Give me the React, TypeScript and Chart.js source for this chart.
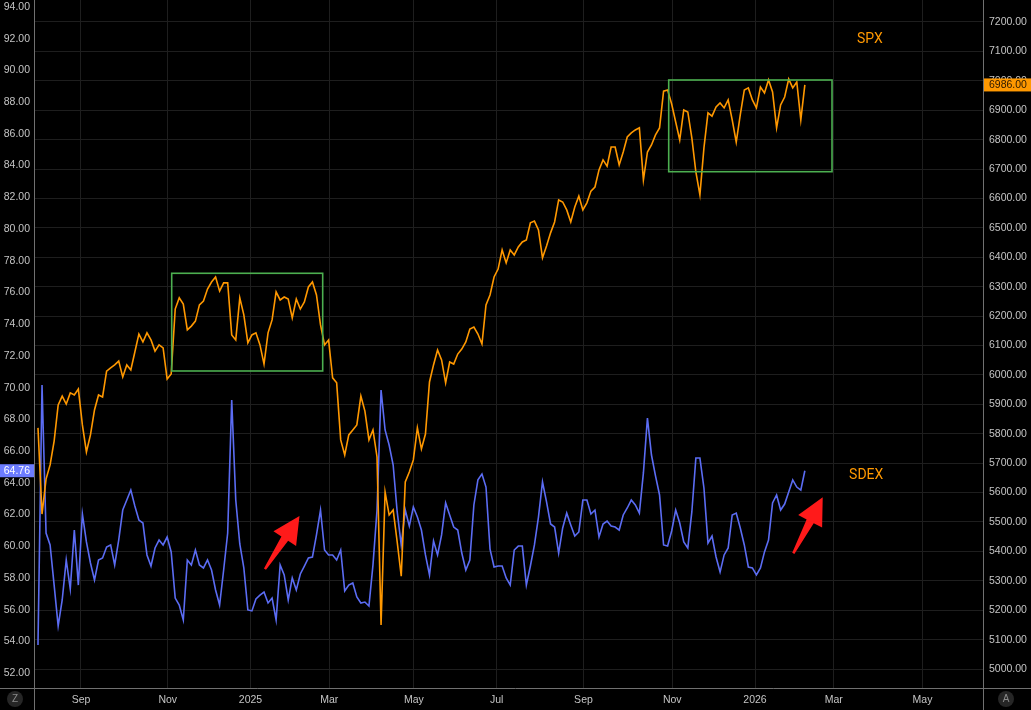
import React, { useEffect, useRef } from "react";
import { Chart, registerables } from "chart.js";

Chart.register(...registerables);

// x axis is in sample units (one sample = two trading sessions), month starts as tick positions
const MONTH_LABELS = ["Sep", "Nov", "2025", "Mar", "May", "Jul", "Sep", "Nov", "2026", "Mar", "May"];
const MONTH_POS = [10.65, 32.15, 52.65, 72.15, 93.15, 113.65, 135.15, 157.15, 177.65, 197.15, 219.15];
const X_MIN = -0.74;
const X_MAX = 234.14;

// SDEX (left axis)
const SDEX = [
  53.77, 70.17, 60.83, 60.08, 57.55, 54.97, 56.61, 59.13, 57.3, 61.02,
  57.55, 62.03, 60.27, 58.94, 57.87, 59.13, 59.26, 59.95, 60.08, 58.82,
  60.39, 62.28, 62.91, 63.54, 62.54, 61.65, 61.46, 59.45, 58.75, 59.89,
  60.39, 60.08, 60.58, 59.64, 56.73, 56.29, 55.35, 59.13, 58.82, 59.76,
  58.82, 58.63, 59.13, 58.5, 57.24, 56.29, 58.5, 60.83, 69.22, 62.91,
  60.14, 58.63, 55.98, 55.92, 56.67, 56.92, 57.11, 56.42, 56.73, 55.35,
  58.82, 58.19, 56.61, 58.0, 57.24, 58.25, 58.75, 59.26, 59.32, 60.71,
  62.28, 59.76, 59.45, 59.45, 59.13, 59.76, 57.18, 57.55, 57.68, 56.8,
  56.42, 56.48, 56.23, 58.82, 62.28, 69.85, 67.33, 66.38, 65.12, 62.16,
  60.08, 62.28, 61.27, 62.47, 61.84, 61.02, 59.45, 58.19, 60.33, 59.45,
  60.71, 62.73, 61.97, 61.21, 61.02, 59.57, 58.5, 59.13, 62.6, 64.18,
  64.55, 63.73, 59.82, 58.69, 58.75, 58.75, 58.0, 57.55, 59.76, 60.01,
  60.01, 57.55, 58.75, 60.08, 61.84, 64.05, 62.79, 61.4, 61.21, 59.57,
  61.15, 62.09, 61.34, 60.64, 60.9, 62.91, 62.91, 62.03, 62.28, 60.58,
  61.4, 61.59, 61.27, 61.21, 61.02, 61.97, 62.41, 62.91, 62.6, 62.09,
  64.62, 68.08, 65.75, 64.43, 63.23, 60.08, 60.01, 60.96, 62.28, 61.46,
  60.27, 59.89, 62.16, 65.56, 65.56, 63.67, 60.2, 60.64, 59.32, 58.37,
  59.45, 59.89, 61.97, 62.09, 61.15, 60.08, 58.69, 58.63, 58.19, 58.63,
  59.64, 60.39, 62.73, 63.23, 62.28, 62.66, 63.42, 64.18, 63.73, 63.54,
  64.76,
];

// SPX (right axis)
const SPX = [
  5820, 5527, 5646, 5694, 5775, 5898, 5928, 5901, 5939, 5932,
  5952, 5830, 5738, 5796, 5881, 5932, 5925, 6013, 6024, 6034,
  6047, 5993, 6034, 6017, 6078, 6139, 6112, 6143, 6119, 6081,
  6102, 6092, 5986, 6003, 6224, 6262, 6241, 6153, 6166, 6183,
  6238, 6251, 6292, 6316, 6333, 6285, 6313, 6313, 6136, 6119,
  6262, 6204, 6109, 6136, 6143, 6102, 6037, 6143, 6187, 6282,
  6255, 6265, 6258, 6194, 6258, 6224, 6248, 6299, 6316, 6272,
  6170, 6102, 6119, 5990, 5973, 5779, 5728, 5796, 5813, 5830,
  5928, 5877, 5779, 5813, 5721, 5150, 5602, 5524, 5541, 5432,
  5316, 5636, 5670, 5711, 5820, 5748, 5799, 5976, 6034, 6085,
  6051, 5973, 6044, 6037, 6071, 6088, 6112, 6156, 6163, 6139,
  6105, 6238, 6272, 6333, 6360, 6425, 6381, 6425, 6408, 6435,
  6452, 6459, 6517, 6523, 6493, 6398, 6438, 6483, 6520, 6595,
  6588, 6561, 6520, 6571, 6608, 6561, 6585, 6625, 6639, 6697,
  6731, 6710, 6775, 6775, 6714, 6758, 6809, 6823, 6833, 6840,
  6663, 6758, 6782, 6816, 6840, 6965, 6969, 6921, 6860, 6799,
  6901, 6894, 6806, 6690, 6612, 6772, 6891, 6880, 6911, 6925,
  6908, 6935, 6867, 6792, 6884, 6969, 6976, 6935, 6908, 6979,
  6959, 7003, 6962, 6840, 6918, 6945, 7006, 6976, 6996, 6867,
  6986,
];

const LEFT_TICKS = [52, 54, 56, 58, 60, 62, 64, 66, 68, 70, 72, 74, 76, 78, 80, 82, 84, 86, 88, 90, 92, 94];
const RIGHT_TICKS = [
  5000, 5100, 5200, 5300, 5400, 5500, 5600, 5700, 5800, 5900, 6000, 6100,
  6200, 6300, 6400, 6500, 6600, 6700, 6800, 6900, 7000, 7100, 7200,
];
const LEFT_MIN = 51.06;
const LEFT_MAX = 94.44;
const RIGHT_MIN = 4935.5;
const RIGHT_MAX = 7274.8;

// annotations in data units (x: sample units, y: axis units)
const BOXES = [
  { x0: 33.13, x1: 70.54, y0: 6013.4, y1: 6345.6 },
  { x0: 156.27, x1: 196.73, y0: 6691.0, y1: 7002.8 },
];
const ARROWS = [
  { x0: 56.24, y0: 58.56, x1: 64.79, y1: 61.91 },
  { x0: 187.14, y0: 59.55, x1: 194.43, y1: 63.08 },
];
const NOTES = [
  { text: "SPX", x: 206.1, y: 7140, axis: "y2" },
  { text: "SDEX", x: 205.2, y: 64.43, axis: "y" },
];

const ORANGE = "#ff9800";
const BLUE = "#5b6cf3";
const FONT_FAMILY = "'Liberation Sans', 'DejaVu Sans', sans-serif";
const TICK_SIZE = 10.5;
const TICK_FONT = `${TICK_SIZE}px ${FONT_FAMILY}`;
const TICK_COLOR = "#c4c4c4";
const GRID = "#1e1e1e";
const BORDER = "#707070";

const overlay = {
  id: "overlay",
  beforeDraw(chart: any) {
    const { ctx, width, height } = chart;
    ctx.save();
    ctx.fillStyle = "#000";
    ctx.fillRect(0, 0, width, height);
    ctx.restore();
  },
  afterDatasetsDraw(chart: any) {
    const { ctx, scales, chartArea } = chart;
    const xs = scales.x;
    ctx.save();
    ctx.beginPath();
    ctx.rect(chartArea.left, chartArea.top, chartArea.right - chartArea.left, chartArea.bottom - chartArea.top);
    ctx.clip();
    // boxes
    ctx.strokeStyle = "#4caf50";
    ctx.lineWidth = 1.6;
    for (const b of BOXES) {
      const l = xs.getPixelForValue(b.x0);
      const r = xs.getPixelForValue(b.x1);
      const t = scales.y2.getPixelForValue(b.y1);
      const bt = scales.y2.getPixelForValue(b.y0);
      ctx.strokeRect(l, t, r - l, bt - t);
    }
    // arrows
    ctx.fillStyle = "#ff1a1a";
    for (const a of ARROWS) {
      const tx = xs.getPixelForValue(a.x0);
      const ty = scales.y.getPixelForValue(a.y0);
      const hx = xs.getPixelForValue(a.x1);
      const hy = scales.y.getPixelForValue(a.y1);
      const len = Math.hypot(hx - tx, hy - ty);
      const dx = (hx - tx) / len;
      const dy = (hy - ty) / len;
      const nx = -dy;
      const ny = dx;
      const headLen = 27;
      const headHalf = 13.5;
      const bx = hx - dx * headLen;
      const by = hy - dy * headLen;
      ctx.beginPath();
      ctx.moveTo(tx + nx * 1.2, ty + ny * 1.2);
      ctx.lineTo(bx + nx * 4, by + ny * 4);
      ctx.lineTo(bx + nx * headHalf, by + ny * headHalf);
      ctx.lineTo(hx, hy);
      ctx.lineTo(bx - nx * headHalf, by - ny * headHalf);
      ctx.lineTo(bx - nx * 4, by - ny * 4);
      ctx.lineTo(tx - nx * 1.2, ty - ny * 1.2);
      ctx.closePath();
      ctx.fill();
    }
    // notes
    ctx.fillStyle = ORANGE;
    ctx.font = "14px Roboto, 'Liberation Sans', sans-serif";
    ctx.textAlign = "center";
    ctx.textBaseline = "middle";
    for (const n of NOTES) {
      ctx.fillText(n.text, xs.getPixelForValue(n.x), scales[n.axis].getPixelForValue(n.y));
    }
    ctx.restore();
  },
  afterDraw(chart: any) {
    const { ctx, chartArea, width, height, scales } = chart;
    ctx.save();
    ctx.strokeStyle = BORDER;
    ctx.lineWidth = 1;
    ctx.beginPath();
    ctx.moveTo(Math.round(chartArea.left) - 0.5, 0);
    ctx.lineTo(Math.round(chartArea.left) - 0.5, height);
    ctx.moveTo(Math.round(chartArea.right) + 0.5, 0);
    ctx.lineTo(Math.round(chartArea.right) + 0.5, height);
    ctx.moveTo(0, Math.round(chartArea.bottom) + 0.5);
    ctx.lineTo(width, Math.round(chartArea.bottom) + 0.5);
    ctx.stroke();

    // last value badges
    const lastL = SDEX[SDEX.length - 1];
    const lastR = SPX[SPX.length - 1];
    const yl = scales.y.getPixelForValue(lastL);
    const yr = scales.y2.getPixelForValue(lastR);
    ctx.font = TICK_FONT;
    ctx.textBaseline = "middle";
    ctx.fillStyle = "#6c7cff";
    ctx.fillRect(0, yl - 6.5, chartArea.left - 1, 13);
    ctx.fillStyle = "#ffffff";
    ctx.textAlign = "right";
    ctx.fillText(lastL.toFixed(2), chartArea.left - 5, yl + 0.5);
    ctx.fillStyle = ORANGE;
    ctx.fillRect(chartArea.right + 1, yr - 6.5, width - chartArea.right - 1, 13);
    ctx.fillStyle = "#2a1800";
    ctx.textAlign = "left";
    ctx.fillText(lastR.toFixed(2), chartArea.right + 6, yr + 0.5);

    // corner buttons
    const icons = [
      { t: "Z", x: 15 },
      { t: "A", x: width - 25 },
    ];
    for (const ic of icons) {
      ctx.fillStyle = "#262626";
      ctx.beginPath();
      ctx.arc(ic.x, chartArea.bottom + 11, 8, 0, Math.PI * 2);
      ctx.fill();
      ctx.fillStyle = "#8a8a8a";
      ctx.textAlign = "center";
      ctx.font = `10px ${FONT_FAMILY}`;
      ctx.fillText(ic.t, ic.x, chartArea.bottom + 11.5);
    }
    ctx.restore();
  },
};

function zeroPad(scale: any) {
  scale.paddingTop = 0;
  scale.paddingBottom = 0;
  scale.paddingLeft = 0;
  scale.paddingRight = 0;
}

const tickFont = { family: FONT_FAMILY, size: TICK_SIZE };

export default function App() {
  const ref = useRef<HTMLCanvasElement | null>(null);
  useEffect(() => {
    if (!ref.current) return;
    const chart = new Chart(ref.current, {
      type: "line",
      data: {
        datasets: [
          {
            label: "SPX",
            data: SPX.map((v, i) => ({ x: i, y: v })),
            yAxisID: "y2",
            borderColor: ORANGE,
            borderWidth: 1.6,
            pointRadius: 0,
            tension: 0,
            fill: false,
          },
          {
            label: "SDEX",
            data: SDEX.map((v, i) => ({ x: i, y: v })),
            yAxisID: "y",
            borderColor: BLUE,
            borderWidth: 1.6,
            pointRadius: 0,
            tension: 0,
            fill: false,
          },
        ],
      },
      options: {
        responsive: false,
        animation: false,
        devicePixelRatio: 1,
        layout: { padding: 0 },
        plugins: { legend: { display: false }, tooltip: { enabled: false } },
        scales: {
          x: {
            type: "linear",
            position: "bottom",
            min: X_MIN,
            max: X_MAX,
            afterBuildTicks: (s: any) => {
              s.ticks = MONTH_POS.map((v) => ({ value: v }));
            },
            afterFit: (s: any) => {
              s.height = 22;
              zeroPad(s);
            },
            grid: { color: GRID, drawTicks: false },
            border: { display: false },
            ticks: {
              autoSkip: false,
              maxRotation: 0,
              padding: 6,
              color: TICK_COLOR,
              font: tickFont,
              callback: (_v: any, i: number) => MONTH_LABELS[i],
            },
          },
          y: {
            type: "linear",
            position: "left",
            min: LEFT_MIN,
            max: LEFT_MAX,
            afterBuildTicks: (s: any) => {
              s.ticks = LEFT_TICKS.map((v) => ({ value: v }));
            },
            afterFit: (s: any) => {
              s.width = 35;
              zeroPad(s);
            },
            grid: { display: false, drawTicks: false },
            border: { display: false },
            ticks: {
              padding: 5,
              color: TICK_COLOR,
              font: tickFont,
              callback: (v: any) => Number(v).toFixed(2),
            },
          },
          y2: {
            type: "linear",
            position: "right",
            min: RIGHT_MIN,
            max: RIGHT_MAX,
            afterBuildTicks: (s: any) => {
              s.ticks = RIGHT_TICKS.map((v) => ({ value: v }));
            },
            afterFit: (s: any) => {
              s.width = 48;
              zeroPad(s);
            },
            grid: { color: GRID, drawTicks: false },
            border: { display: false },
            ticks: {
              padding: 6,
              color: TICK_COLOR,
              font: tickFont,
              callback: (v: any) => Number(v).toFixed(2),
            },
          },
        },
      },
      plugins: [overlay],
    } as any);
    return () => chart.destroy();
  }, []);

  return (
    <div style={{ position: "fixed", left: 0, top: 0, width: 1031, height: 710, background: "#000" }}>
      <canvas ref={ref} width={1031} height={710} style={{ display: "block" }} />
    </div>
  );
}
